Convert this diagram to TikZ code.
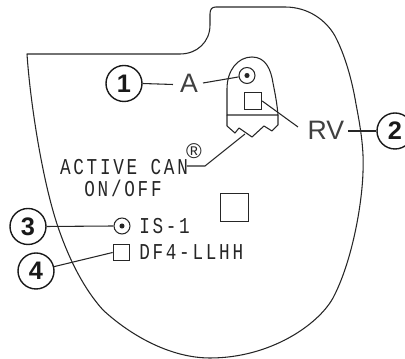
\documentclass[tikz,border=0pt]{standalone}
\usepackage{fontspec}
\setmainfont{Liberation Sans}
\newfontfamily\lblmono[FakeStretch=0.78,LetterSpace=12]{Liberation Mono}
\tikzset{
 x=0.75pt,y=-0.75pt,
 outline/.style={draw=black!85,line width=0.8pt,line join=round},
 leader/.style={draw=black!85,line width=0.8pt},
 callout/.style={circle,draw=black!90,line width=1.05pt,minimum size=27pt,inner sep=0pt,font=\bfseries\fontsize{19}{19}\selectfont,text=black!90},
 big/.style={inner sep=0pt,text=black!75,font=\fontsize{20}{20}\selectfont},
 mono/.style={inner sep=0pt,anchor=west,text=black!85,font=\lblmono\fontsize{17}{17}\selectfont},
 pin/.style={circle,draw=black!85,line width=0.8pt,minimum size=12pt,inner sep=0pt},
 dot/.style={circle,fill=black!85,minimum size=3.8pt,inner sep=0pt},
 port/.style={rectangle,draw=black!85,line width=0.8pt,inner sep=0pt},
}
\begin{document}
\begin{tikzpicture}
\useasboundingbox (0,0) rectangle (405,359);
\clip (0,0) rectangle (405,359);
% can outline
\draw[outline] (27,54) -- (180,54) .. controls (197,54) and (210,42) .. (210,25)
 -- (210,14) .. controls (210,9) and (212,7) .. (216,7) -- (285,7)
 .. controls (308,7) and (326,20) .. (335,36)
 .. controls (345,55) and (352,80) .. (356,104)
 .. controls (361,130) and (364,150) .. (363,172)
 .. controls (362,205) and (352,262) .. (333,298)
 .. controls (318,325) and (270,358) .. (210,358)
 .. controls (170,358) and (130,335) .. (103,310)
 .. controls (85,290) and (70,262) .. (58,227)
 .. controls (42,180) and (30,100) .. (27,54) -- cycle;
% header block
\draw[outline] (227,115) -- (227,89) .. controls (227,70) and (238,57) .. (252,57)
 .. controls (266,57) and (271,70) .. (273,83)
 .. controls (275,93) and (277,103) .. (278,115) -- cycle;
\draw[outline] (227,115) -- (227,126) -- (235,133) -- (239,128) -- (252,137) -- (264,126) -- (272,131) -- (278,125) -- (278,115);
% ports
\node[pin] (pinA) at (247,75.5) {};
\node[dot] (dotA) at (247,75.5) {};
\node[port,minimum width=13pt,minimum height=13pt] (portRV) at (253,101) {};
\node[port,minimum width=21.5pt,minimum height=21.5pt] (portC) at (234.5,207.5) {};
\node[pin] (pinIS) at (122,226) {};
\node[dot] (dotIS) at (122,226) {};
\node[port,minimum width=12.5pt,minimum height=12.5pt] (portDF) at (121.5,252.5) {};
% callouts
\node[callout] (c1) at (124,83.5) {1};
\node[callout] (c2) at (395,131) {2};
\node[callout] (c3) at (28,226.5) {3};
\node[callout] (c4) at (36,271) {4};
% labels
\node[big] (lA) at (189,83.5) {A};
\node[big] (lRV) at (326,130) {RV};
\node[mono] (tIS) at (139,226) {IS-1};
\node[mono] (tDF) at (139,252.5) {DF4-LLHH};
\node[mono,anchor=center] (tAC) at (124,167) {ACTIVE CAN};
\node[mono,anchor=center] (tON) at (123,188) {ON/OFF};
\node[inner sep=0pt,text=black!85,font=\fontsize{16}{16}\selectfont] (reg) at (194,151) {®};
% connectors
\coordinate (aEnd) at (173,84.5);
\coordinate (aStart) at (203,83);
\coordinate (rvStart) at (298,127);
\coordinate (twoEnd) at (348,131);
\coordinate (acStart) at (187,166);
\coordinate (acKnee) at (205,166);
\coordinate (acEnd) at (245,134);
\draw[leader] (c1.east) -- (aEnd);
\draw[leader] (aStart) -- (pinA);
\draw[leader] (portRV.east) -- (rvStart);
\draw[leader] (twoEnd) -- (c2);
\draw[leader] (acStart) -- (acKnee) -- (acEnd);
\draw[leader] (c3.east) -- (pinIS.west);
\draw[leader] (c4) -- (portDF.west);
\end{tikzpicture}
\end{document}
